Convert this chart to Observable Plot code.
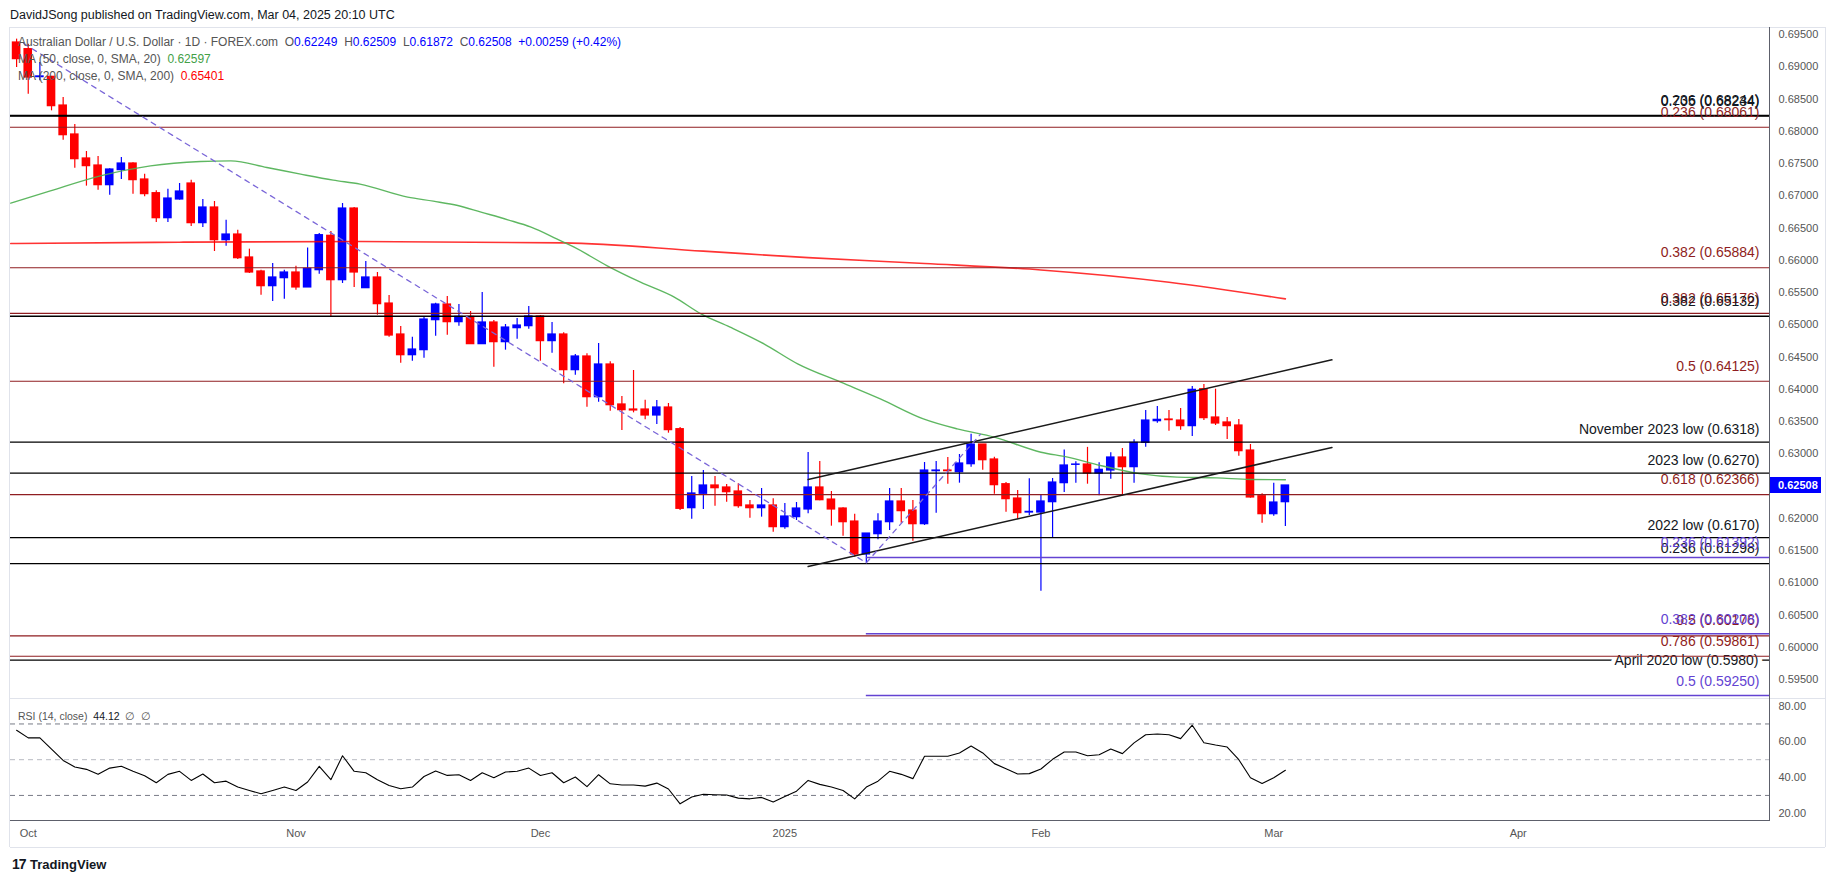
<!DOCTYPE html>
<html>
<head>
<meta charset="utf-8">
<script src="https://cdn.jsdelivr.net/npm/d3@7"></script>
<script src="https://cdn.jsdelivr.net/npm/@observablehq/plot@0.6"></script>
<style>
html,body{margin:0;padding:0;background:#fff;}
#wrap{position:relative;width:1835px;height:883px;overflow:hidden;font-family:"Liberation Sans",Arial,sans-serif;color:#131722;}
.abs{position:absolute;white-space:nowrap;}
.ln{position:absolute;}
#wrap svg{position:absolute;left:0;}
</style>
</head>
<body>
<div id="wrap"></div>
<script>
// ---------------- DATA ----------------
// AUD/USD daily candles, Sep 30 2024 (index 0) ... Mar 04 2025 (index 109)
const candleOpen = [
0.69376,0.69273,0.68839,0.68844,0.68399,0.67950,0.67578,0.67469,0.67164,0.67397,
0.67500,0.67252,0.67040,0.66652,0.66942,0.67190,0.66575,0.66818,0.66311,0.66399,
0.66043,0.65826,0.65598,0.65722,0.65810,0.65578,0.65846,0.66379,0.65691,0.66802,
0.65567,0.65733,0.65329,0.64849,0.64528,0.64606,0.65071,0.65314,0.65040,0.65123,
0.64699,0.65035,0.64730,0.64947,0.64978,0.65128,0.64746,0.64849,0.64296,0.64508,
0.63877,0.64384,0.63764,0.63686,0.63686,0.63593,0.63717,0.63381,0.62156,0.62379,
0.62508,0.62477,0.62415,0.62198,0.62156,0.62198,0.61862,0.62017,0.62136,0.62477,
0.62290,0.62151,0.61949,0.61438,0.61753,0.61939,0.62260,0.62120,0.61908,0.62730,
0.62740,0.62714,0.62838,0.63143,0.62911,0.62528,0.62306,0.62089,0.62089,0.62249,
0.62544,0.62828,0.62833,0.62694,0.62740,0.62942,0.62792,0.63169,0.63505,0.63531,
0.63515,0.63428,0.64001,0.63562,0.63485,0.63438,0.63050,0.62342,0.62063,0.62249];
const candleHigh = [
0.69428,0.69350,0.69066,0.68850,0.68523,0.68105,0.67686,0.67608,0.67417,0.67593,
0.67510,0.67335,0.67076,0.67102,0.67190,0.67242,0.66942,0.66911,0.66621,0.66466,
0.66172,0.65846,0.65950,0.65846,0.65908,0.66188,0.66415,0.66446,0.66880,0.66818,
0.65981,0.65810,0.65453,0.64973,0.64807,0.65118,0.65335,0.65438,0.65314,0.65205,
0.65500,0.65066,0.65004,0.65097,0.65283,0.65143,0.65035,0.64875,0.64539,0.64549,
0.64709,0.64425,0.63888,0.64291,0.63831,0.63826,0.63779,0.63407,0.62647,0.62740,
0.62647,0.62523,0.62534,0.62275,0.62461,0.62301,0.62229,0.62244,0.63019,0.62880,
0.62415,0.62161,0.62063,0.61763,0.62068,0.62461,0.62461,0.62275,0.62864,0.62880,
0.62942,0.62988,0.63303,0.63143,0.62947,0.62554,0.62430,0.62611,0.62368,0.62616,
0.63057,0.62875,0.63099,0.62859,0.63014,0.63081,0.63216,0.63670,0.63732,0.63670,
0.63701,0.64043,0.64074,0.64001,0.63562,0.63531,0.63143,0.62379,0.62544,0.62509];
const candleLow = [
0.68988,0.68575,0.68782,0.68316,0.67862,0.67428,0.67149,0.67087,0.67009,0.67252,
0.67025,0.66983,0.66585,0.66585,0.66932,0.66523,0.66508,0.66136,0.66218,0.66011,
0.65795,0.65459,0.65360,0.65397,0.65536,0.65578,0.65784,0.65123,0.65640,0.65578,
0.65567,0.65149,0.64807,0.64404,0.64435,0.64482,0.64823,0.64838,0.64978,0.64699,
0.64699,0.64342,0.64606,0.64776,0.64932,0.64435,0.64559,0.64086,0.64218,0.63722,
0.63800,0.63660,0.63361,0.63634,0.63526,0.63453,0.63319,0.62120,0.61986,0.62136,
0.62187,0.62249,0.62156,0.62001,0.62017,0.61784,0.61831,0.61965,0.62068,0.62270,
0.61877,0.61722,0.61397,0.61304,0.61665,0.61810,0.61924,0.61645,0.61888,0.62079,
0.62528,0.62544,0.62792,0.62745,0.62373,0.62094,0.61986,0.62042,0.60869,0.61696,
0.62399,0.62544,0.62528,0.62347,0.62606,0.62347,0.62544,0.63102,0.63474,0.63350,
0.63366,0.63267,0.63515,0.63438,0.63221,0.62962,0.62311,0.61924,0.62032,0.61872];
const candleClose = [
0.69118,0.68833,0.68850,0.68389,0.67939,0.67567,0.67459,0.67164,0.67407,0.67500,
0.67242,0.67025,0.66652,0.66957,0.67066,0.66575,0.66818,0.66311,0.66399,0.66032,
0.65810,0.65598,0.65733,0.65810,0.65578,0.65867,0.66389,0.65691,0.66802,0.65810,
0.65733,0.65319,0.64833,0.64528,0.64616,0.65081,0.65314,0.65040,0.65123,0.64699,
0.65035,0.64730,0.64957,0.64988,0.65128,0.64746,0.64849,0.64296,0.64508,0.63877,
0.64384,0.63753,0.63676,0.63671,0.63593,0.63717,0.63366,0.62146,0.62384,0.62508,
0.62466,0.62404,0.62187,0.62156,0.62198,0.61862,0.62027,0.62151,0.62477,0.62280,
0.62136,0.61939,0.61438,0.61763,0.61949,0.62260,0.62110,0.61908,0.62740,0.62740,
0.62730,0.62849,0.63143,0.62900,0.62513,0.62296,0.62079,0.62099,0.62260,0.62554,
0.62818,0.62833,0.62694,0.62751,0.62942,0.62792,0.63169,0.63515,0.63526,0.63521,
0.63428,0.63991,0.63552,0.63469,0.63428,0.63040,0.62322,0.62063,0.62244,0.62508];

// Moving averages, read at sample bar positions
const ma50Idx = [-0.5,2.9,7.2,11.5,15.8,18.4,21.5,24.4,27.2,29.5,33.6,35.8,37.9,39.9,42.2,44.2,46.4,47.9,50.7,53.6,56.5,58.8,61.3,64.2,67.1,70.8,74.2,77.9,80.8,84.0,88.0,90.3,93.1,96.6,99.7,103.1,106.0,109.0];
const ma50Val = [0.66885,0.67076,0.67309,0.67464,0.67531,0.67541,0.67438,0.67335,0.67242,0.67180,0.66978,0.66916,0.66849,0.66746,0.66627,0.66513,0.66332,0.66203,0.65918,0.65660,0.65428,0.65169,0.64963,0.64704,0.64394,0.64110,0.63851,0.63541,0.63386,0.63257,0.63024,0.62947,0.62818,0.62688,0.62637,0.62626,0.62601,0.62597];
const ma200Idx = [-0.5,14,29.5,47,59,68,78,88,99,109];
const ma200Val = [0.66260,0.66280,0.66291,0.66270,0.66141,0.66040,0.65950,0.65850,0.65660,0.65401];

// RSI(14) per bar
const rsiValues = [
66.5,62.2,62.2,55.9,49.6,45.9,44.6,41.8,45.3,46.3,
43.5,41.0,37.1,41.8,43.5,38.4,42.0,37.1,38.0,34.7,
32.8,30.9,32.8,34.7,32.8,37.5,46.3,38.8,52.2,43.5,
42.7,38.8,35.6,33.7,34.7,40.6,43.7,41.2,41.6,38.4,
42.7,39.9,43.1,43.5,45.3,41.2,42.7,37.1,40.3,34.9,
41.6,36.5,35.8,35.8,35.2,36.9,33.6,25.3,29.1,30.7,
30.4,30.2,28.5,28.1,28.9,26.3,29.4,32.4,38.4,36.2,
34.7,32.8,28.1,34.7,38.0,43.5,41.8,39.4,51.9,51.9,
51.9,53.8,57.7,53.8,47.8,44.9,42.0,42.2,44.8,50.2,
54.3,54.3,52.2,52.8,56.0,53.4,59.4,64.0,64.4,64.0,
61.8,69.3,59.5,58.2,57.1,50.0,39.9,36.7,39.9,44.1];
const rsiLevels = [70, 30];
const rsiMid = [50];
const rsiTicks = [20, 40, 60, 80];

// Fibonacci / key levels
const fibRedLevels = [0.236, 0.382, 0.382, 0.5, 0.618, 0.5, 0.786];
const fibRedPrices = [0.68061, 0.65884, 0.65176, 0.64125, 0.62366, 0.60176, 0.59861];
const fibBlackLevels = [0.705, 0.236, 0.382, 0.236];
const fibBlackPrices = [0.68234, 0.68244, 0.65132, 0.61298];
const fibPurpleLevels = [0.236, 0.382, 0.5];
const fibPurplePrices = [0.61392, 0.60208, 0.59250];
const fibPurpleStartIdx = 73;
const keyLevelNames = ["November 2023 low", "2023 low", "2022 low", "April 2020 low"];
const keyLevelPrices = [0.6318, 0.6270, 0.6170, 0.5980];

// Trend lines (bar index, price)
const channelUpperIdx = [68, 113], channelUpperVal = [0.62601, 0.64456];
const channelLowerIdx = [68, 113], channelLowerVal = [0.61252, 0.63097];
const fibTrendDownIdx = [0.6, 73], fibTrendDownVal = [0.6936, 0.6131];
const fibTrendUpIdx = [73, 82.8], fibTrendUpVal = [0.6131, 0.6330];

// Axes
const priceTicks = [0.595,0.600,0.605,0.610,0.615,0.620,0.625,0.630,0.635,0.640,0.645,0.650,0.655,0.660,0.665,0.670,0.675,0.680,0.685,0.690,0.695];
const monthTickIdx = [1, 24, 45, 66, 88, 108, 129];
const monthTickLabels = ["Oct", "Nov", "Dec", "2025", "Feb", "Mar", "Apr"];

const legend = {
  title: "Australian Dollar / U.S. Dollar · 1D · FOREX.com",
  o: "0.62249", h: "0.62509", l: "0.61872", c: "0.62508", chg: "+0.00259 (+0.42%)",
  ma50: "0.62597", ma200: "0.65401", rsi: "44.12"
};

// ---------------- RENDER ----------------
const wrap = document.getElementById("wrap");
const FONT = "Liberation Sans, Arial, sans-serif";
const X_DOMAIN = [-0.524, 150.59];
const Y_DOMAIN = [0.592054, 0.696085];
const UP = "#0000ff", DOWN = "#ff0000";
const DARKRED = "#8f1d21", PURPLE = "#6343d2", AXIS = "#555";

const candles = candleOpen.map((o, i) => ({i, o, h: candleHigh[i], l: candleLow[i], c: candleClose[i]}));
const col = d => d.c >= d.o ? UP : DOWN;
const pts = (xs, ys) => xs.map((x, k) => ({x, y: ys[k]}));

const redLines = fibRedPrices.map((p, k) => ({p, t: `${fibRedLevels[k]} (${p.toFixed(5)})`}));
const blackLines = fibBlackPrices.map((p, k) => ({p, t: `${fibBlackLevels[k]} (${p.toFixed(5)})`}));
const purpleLines = fibPurplePrices.map((p, k) => ({p, t: `${fibPurpleLevels[k]} (${p.toFixed(5)})`}));
const keyLines = keyLevelPrices.map((p, k) => ({p, t: `${keyLevelNames[k]} (${p.toFixed(4)})`}));
const keyAbove = keyLines.slice(0, 3), keyOnLine = keyLines.slice(3);

const txt = {frameAnchor: "right", textAnchor: "end", dx: -10, fontSize: 14, fontFamily: FONT};

const price = Plot.plot({
  width: 1835, height: 700,
  marginLeft: 10, marginRight: 66, marginTop: 27, marginBottom: 2,
  x: {domain: X_DOMAIN, axis: null},
  y: {domain: Y_DOMAIN, axis: null},
  style: {background: "transparent", fontFamily: FONT, color: AXIS},
  marks: [
    Plot.ruleY(keyOnLine, {y: "p", stroke: "#000", strokeWidth: 1.3}),
    Plot.text(keyOnLine, {...txt, y: "p", text: "t", dx: -11, fill: "#131722", stroke: "white", strokeWidth: 9, paintOrder: "stroke"}),
    Plot.ruleX(candles, {x: "i", y1: "l", y2: "h", stroke: col, strokeWidth: 1.2, clip: true}),
    Plot.rect(candles, {x1: d => d.i - 0.37, x2: d => d.i + 0.37, y1: d => Math.min(d.o, d.c), y2: d => Math.max(d.o, d.c), fill: col, insetTop: -0.6, insetBottom: -0.6, clip: true}),
    Plot.line(pts(ma200Idx, ma200Val), {x: "x", y: "y", stroke: "#ff0000", strokeOpacity: 0.8, strokeWidth: 1.6, curve: "monotone-x", clip: true}),
    Plot.line(pts(ma50Idx, ma50Val), {x: "x", y: "y", stroke: "#4caf50", strokeOpacity: 0.9, strokeWidth: 1.4, curve: "monotone-x", clip: true}),
    Plot.ruleY(redLines, {y: "p", stroke: DARKRED, strokeWidth: 1.1}),
    Plot.ruleY(blackLines, {y: "p", stroke: "#000", strokeWidth: 1.3}),
    Plot.ruleY(keyAbove, {y: "p", stroke: "#000", strokeWidth: 1.3}),
    Plot.ruleY(purpleLines, {y: "p", x1: fibPurpleStartIdx, x2: X_DOMAIN[1], stroke: PURPLE, strokeWidth: 1.5}),
    Plot.line(pts(channelUpperIdx, channelUpperVal), {x: "x", y: "y", stroke: "#1a1a1a", strokeWidth: 1.5}),
    Plot.line(pts(channelLowerIdx, channelLowerVal), {x: "x", y: "y", stroke: "#1a1a1a", strokeWidth: 1.5}),
    Plot.line(pts(fibTrendDownIdx, fibTrendDownVal), {x: "x", y: "y", stroke: "#7a66d8", strokeWidth: 1.3, strokeDasharray: "5,5"}),
    Plot.line(pts(fibTrendUpIdx, fibTrendUpVal), {x: "x", y: "y", stroke: "#7a66d8", strokeWidth: 1.3, strokeDasharray: "5,5"}),
    Plot.text(redLines, {...txt, y: "p", text: "t", dy: -15, fill: DARKRED}),
    Plot.text(blackLines, {...txt, y: "p", text: "t", dy: -15, fill: "#131722"}),
    Plot.text(keyAbove, {...txt, y: "p", text: "t", dy: -12.5, fill: "#131722"}),
    Plot.text(purpleLines, {...txt, y: "p", text: "t", dy: -14.5, fill: PURPLE}),
    Plot.axisY({ticks: priceTicks, anchor: "right", tickFormat: d3.format(".5f"), tickSize: 0, tickPadding: 9, fontSize: 11, fill: AXIS})
  ]
});
price.style.top = "0px";
wrap.appendChild(price);

const rsiPlot = Plot.plot({
  width: 1835, height: 152,
  marginLeft: 10, marginRight: 66, marginTop: 0, marginBottom: 30,
  x: {domain: X_DOMAIN, axis: null},
  y: {domain: [15.97, 84.25], axis: null},
  style: {background: "transparent", fontFamily: FONT, color: AXIS},
  marks: [
    Plot.ruleY(rsiLevels, {y: d => d, stroke: "#787b86", strokeWidth: 1, strokeDasharray: "5,4"}),
    Plot.ruleY(rsiMid, {y: d => d, stroke: "#b8bbc2", strokeWidth: 1, strokeDasharray: "5,4"}),
    Plot.line(rsiValues, {x: (d, i) => i, y: d => d, stroke: "#000", strokeWidth: 1.1, clip: true}),
    Plot.axisY({ticks: rsiTicks, anchor: "right", tickFormat: d3.format(".2f"), tickSize: 0, tickPadding: 9, fontSize: 11, fill: AXIS}),
    Plot.axisX({ticks: monthTickIdx, tickFormat: d => monthTickLabels[monthTickIdx.indexOf(d)], tickSize: 0, tickPadding: 9, fontSize: 11, fill: AXIS})
  ]
});
rsiPlot.style.top = "698px";
wrap.appendChild(rsiPlot);

// frame lines
function line(x, y, w, h, c) {
  const d = document.createElement("div");
  d.className = "ln";
  Object.assign(d.style, {left: x + "px", top: y + "px", width: w + "px", height: h + "px", background: c});
  wrap.appendChild(d);
}
line(10, 27, 1815, 1, "#e0e3eb");     // top border
line(9, 27, 1, 820, "#e0e3eb");       // left border
line(1825, 27, 1, 820, "#e0e3eb");    // right border
line(10, 698, 1815, 1, "#e0e3eb");    // pane separator
line(10, 820, 1759, 1, "#5d606b");    // time axis line
line(1769, 27, 1, 794, "#5d606b");    // price axis line
line(10, 847, 1815, 1, "#e0e3eb");    // bottom border

// texts
function html(x, y, s, css) {
  const d = document.createElement("div");
  d.className = "abs";
  d.style.left = x + "px"; d.style.top = y + "px";
  if (css) d.style.cssText += css;
  d.innerHTML = s;
  wrap.appendChild(d);
  return d;
}
html(10, 8, "DavidJSong published on TradingView.com, Mar 04, 2025 20:10 UTC", "font-size:12.5px;color:#131722;");
const G = 'color:#555', B = 'color:#0000ff';
html(18, 34,
  `<span style="${G}">${legend.title}</span>&nbsp;&nbsp;` +
  `<span style="${G}">O</span><span style="${B}">${legend.o}</span>&nbsp;&nbsp;` +
  `<span style="${G}">H</span><span style="${B}">${legend.h}</span>&nbsp;&nbsp;` +
  `<span style="${G}">L</span><span style="${B}">${legend.l}</span>&nbsp;&nbsp;` +
  `<span style="${G}">C</span><span style="${B}">${legend.c}</span>&nbsp;&nbsp;` +
  `<span style="${B}">${legend.chg}</span>`,
  "font-size:12px;line-height:16px;");
html(18, 51, `<span style="${G}">MA (50, close, 0, SMA, 20)</span>&nbsp;&nbsp;<span style="color:#43a047">${legend.ma50}</span>`, "font-size:12px;line-height:16px;");
html(18, 68, `<span style="${G}">MA (200, close, 0, SMA, 200)</span>&nbsp;&nbsp;<span style="color:#ff0000">${legend.ma200}</span>`, "font-size:12px;line-height:16px;");
html(18, 709, `<span style="${G}">RSI (14, close)</span>&nbsp;&nbsp;<span style="color:#131722">${legend.rsi}</span>&nbsp;&nbsp;<span style="${G}">∅&nbsp;&nbsp;∅</span>`, "font-size:10.5px;line-height:14px;");

// last price tag
const yLast = price.scale("y").apply(candleClose[candleClose.length - 1]);
html(1770, yLast - 8, legend.c, "width:43px;height:16px;line-height:16px;padding-left:8px;background:#0000ff;color:#fff;font-size:11px;font-weight:bold;");

// footer logo
html(12, 856, `<span style="font-weight:900;font-size:14px;letter-spacing:-1px">17</span>&nbsp;<span style="font-weight:bold;font-size:13px">TradingView</span>`, "color:#131722;line-height:16px;");
</script>
</body>
</html>
